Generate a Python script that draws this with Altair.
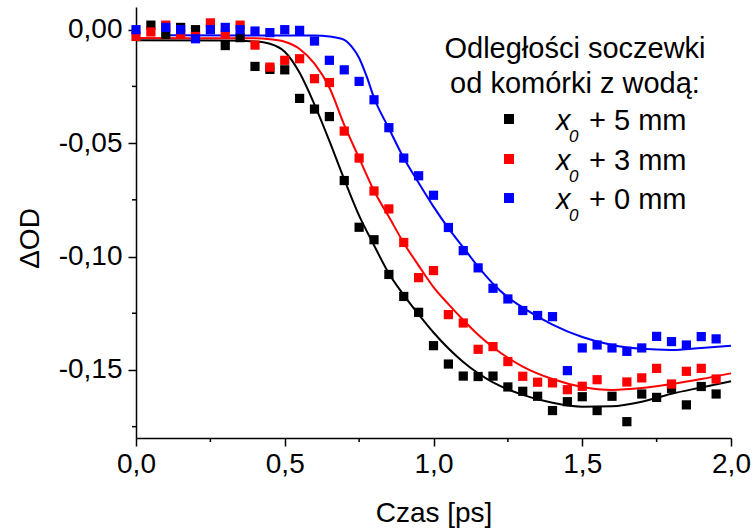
import altair as alt
import pandas as pd

# ---------------- data ----------------
series_keys = ["x5", "x3", "x0"]
series_colors = ["#000000", "#ff0000", "#0000ff"]
legend_labels = ["+ 5 mm", "+ 3 mm", "+ 0 mm"]

time_ps = [0.00, 0.05, 0.10, 0.15, 0.20, 0.25, 0.30, 0.35, 0.40, 0.45,
           0.50, 0.55, 0.60, 0.65, 0.70, 0.75, 0.80, 0.85, 0.90, 0.95,
           1.00, 1.05, 1.10, 1.15, 1.20, 1.25, 1.30, 1.35, 1.40, 1.45,
           1.50, 1.55, 1.60, 1.65, 1.70, 1.75, 1.80, 1.85, 1.90, 1.95]

od_x5 = [None, 0.002, -0.002, 0.001, 0.000, None, -0.007, -0.0035, -0.0162, -0.0175,
         -0.0177, -0.0303, -0.0350, -0.0383, -0.0665, -0.0871, -0.0926, -0.1079, -0.1176, -0.1246,
         -0.1393, -0.1474, -0.1527, -0.1529, -0.1527, -0.1575, -0.1594, -0.1616, -0.1679, -0.1640,
         -0.1618, -0.1679, -0.1616, -0.1728, -0.1606, -0.1621, -0.1581, -0.1654, -0.1573, -0.1606]

od_x3 = [-0.003, -0.001, 0.002, -0.002, -0.003, 0.003, -0.002, 0.002, -0.0068, -0.0165,
         -0.0135, -0.0128, -0.0216, -0.0233, -0.0447, -0.0566, -0.0711, -0.0790, -0.0938, -0.1093,
         -0.1062, -0.1256, -0.1293, -0.1409, -0.1397, -0.1463, -0.1528, -0.1554, -0.1557, -0.1587,
         -0.1572, -0.1543, None, -0.1553, -0.1535, -0.1493, -0.1562, -0.1506, -0.1493, -0.1540]

od_x0 = [0.000, None, 0.001, 0.000, -0.004, 0.000, 0.001, 0.000, -0.0006, -0.0013,
         0.000, -0.0003, -0.0050, -0.0135, -0.0177, -0.0228, -0.0309, -0.0432, -0.0566, -0.0644,
         -0.0730, -0.0872, -0.0974, -0.1050, -0.1140, -0.1187, -0.1238, -0.1260, -0.1265, -0.1503,
         -0.1403, -0.1390, -0.1403, -0.1418, -0.1403, -0.1352, -0.1375, -0.1390, -0.1353, -0.1363]

fit_x5_t = [0.00, 0.30, 0.40, 0.45, 0.50, 0.55, 0.60, 0.65, 0.70, 0.75, 0.80, 0.85, 0.90,
            0.95, 1.00, 1.10, 1.20, 1.30, 1.40, 1.50, 1.60, 1.70, 1.80, 1.90, 2.00]
fit_x5_od = [-0.0047, -0.0048, -0.0052, -0.0062, -0.0097, -0.0190, -0.0330, -0.0490, -0.0660,
             -0.0820, -0.0950, -0.1075, -0.1170, -0.1255, -0.1335, -0.1465, -0.1555, -0.1610,
             -0.1645, -0.1662, -0.1660, -0.1640, -0.1605, -0.1577, -0.1550]

fit_x3_t = [0.00, 0.40, 0.45, 0.50, 0.55, 0.60, 0.65, 0.70, 0.75, 0.80, 0.85, 0.90, 0.95,
            1.00, 1.05, 1.10, 1.15, 1.20, 1.30, 1.40, 1.50, 1.60, 1.70, 1.80, 1.90, 2.00]
fit_x3_od = [-0.0037, -0.0038, -0.0042, -0.0053, -0.0085, -0.0150, -0.0255, -0.0420, -0.0566,
             -0.0710, -0.0825, -0.0940, -0.1040, -0.1135, -0.1210, -0.1280, -0.1345, -0.1400,
             -0.1485, -0.1540, -0.1575, -0.1588, -0.1580, -0.1562, -0.1540, -0.1515]

fit_x0_t = [0.10, 0.60, 0.65, 0.70, 0.725, 0.75, 0.775, 0.80, 0.85, 0.90, 0.95, 1.00, 1.05,
            1.10, 1.15, 1.20, 1.25, 1.30, 1.40, 1.50, 1.60, 1.70, 1.80, 1.90, 2.00]
fit_x0_od = [-0.0025, -0.0026, -0.0030, -0.0045, -0.0075, -0.0125, -0.0205, -0.0300, -0.0435,
             -0.0566, -0.0675, -0.0780, -0.0875, -0.0960, -0.1045, -0.1120, -0.1180, -0.1225,
             -0.1300, -0.1355, -0.1390, -0.1407, -0.1412, -0.1403, -0.1393]

x_major = [0.0, 0.5, 1.0, 1.5, 2.0]
x_minor = [0.25, 0.75, 1.25, 1.75]
y_major = [0.0, -0.05, -0.10, -0.15]
y_minor = [-0.025, -0.075, -0.125, -0.175]

legend_title_1 = "Odległości soczewki"
legend_title_2 = "od komórki z wodą:"

# ---------------- tables ----------------
rows = []
for key, vals in zip(series_keys, [od_x5, od_x3, od_x0]):
    for t, v in zip(time_ps, vals):
        if v is not None:
            rows.append({"series": key, "t": t, "od": v})
pts = pd.DataFrame(rows)

frows = []
for key, ts, vs in [("x5", fit_x5_t, fit_x5_od), ("x3", fit_x3_t, fit_x3_od), ("x0", fit_x0_t, fit_x0_od)]:
    for t, v in zip(ts, vs):
        frows.append({"series": key, "t": t, "od": v})
fits = pd.DataFrame(frows)

FONT = "Liberation Sans"
W, H = 595, 431

xscale = alt.Scale(domain=[0, 2.0], nice=False, zero=False)
yscale = alt.Scale(domain=[-0.18, 0.01], nice=False, zero=False)
cscale = alt.Scale(domain=series_keys, range=series_colors)

xaxis = alt.Axis(values=x_major, title="Czas [ps]",
                 labelExpr="replace(format(datum.value, '.1f'), '.', ',')",
                 grid=False, tickSize=8, tickWidth=1.5, tickColor="black",
                 domainColor="black", domainWidth=1.5,
                 labelFont=FONT, labelFontSize=28, labelColor="black", labelPadding=4,
                 titleFont=FONT, titleFontSize=28, titleFontWeight="normal",
                 titleColor="black", titlePadding=21, labelFlush=False)
yaxis = alt.Axis(values=y_major, title="ΔOD",
                 labelExpr="replace(replace(format(datum.value, '.2f'), '.', ','), '\u2212', '-')",
                 grid=False, tickSize=8, tickWidth=1.5, tickColor="black",
                 domainColor="black", domainWidth=1.5,
                 labelFont=FONT, labelFontSize=28, labelColor="black", labelPadding=6,
                 titleFont=FONT, titleFontSize=28, titleFontWeight="normal",
                 titleColor="black", titleX=-106, titleY=231, titleAngle=270,
                 titleAlign="center", titleBaseline="middle", labelFlush=False)

lines = alt.Chart(fits).mark_line(interpolate="monotone", strokeWidth=2).encode(
    x=alt.X("t:Q", scale=xscale, axis=xaxis),
    y=alt.Y("od:Q", scale=yscale, axis=yaxis),
    color=alt.Color("series:N", scale=cscale, legend=None),
    detail="series:N",
)

points = alt.Chart(pts).mark_square(size=85, opacity=1).encode(
    x=alt.X("t:Q", scale=xscale),
    y=alt.Y("od:Q", scale=yscale),
    color=alt.Color("series:N", scale=cscale, legend=None),
)

yminor = alt.Chart(pd.DataFrame({"v": y_minor})).mark_rule(color="black", strokeWidth=1.5).encode(
    y=alt.Y("v:Q", scale=yscale), x=alt.value(-4), x2=alt.value(0))
xminor = alt.Chart(pd.DataFrame({"v": x_minor})).mark_rule(color="black", strokeWidth=1.5).encode(
    x=alt.X("v:Q", scale=xscale), y=alt.value(H), y2=alt.value(H + 4))

layers = [lines, points, yminor, xminor]

# legend (drawn by hand to allow italic x with subscript 0)
one = pd.DataFrame({"k": [0]})
layers.append(alt.Chart(one).mark_text(font=FONT, fontSize=29, align="center", baseline="alphabetic",
                                        color="black").encode(
    x=alt.value(439), y=alt.value(51), text=alt.value(legend_title_1)))
layers.append(alt.Chart(one).mark_text(font=FONT, fontSize=29, align="center", baseline="alphabetic",
                                        color="black").encode(
    x=alt.value(439), y=alt.value(86), text=alt.value(legend_title_2)))

row_y = [112, 152, 191]
for key, col, lab, ry in zip(series_keys, series_colors, legend_labels, row_y):
    layers.append(alt.Chart(one).mark_square(size=100, color=col, opacity=1).encode(
        x=alt.value(373), y=alt.value(ry)))
    layers.append(alt.Chart(one).mark_text(font=FONT, fontSize=29, fontStyle="italic", align="left",
                                            baseline="alphabetic", color="black").encode(
        x=alt.value(420), y=alt.value(ry + 11), text=alt.value("x")))
    layers.append(alt.Chart(one).mark_text(font=FONT, fontSize=17, fontStyle="italic", align="left",
                                            baseline="alphabetic", color="black").encode(
        x=alt.value(433), y=alt.value(ry + 23), text=alt.value("0")))
    layers.append(alt.Chart(one).mark_text(font=FONT, fontSize=29, align="left",
                                            baseline="alphabetic", color="black").encode(
        x=alt.value(453), y=alt.value(ry + 11), text=alt.value(lab)))

chart = alt.layer(*layers).properties(
    width=W, height=H,
    autosize=alt.AutoSizeParams(type="none"),
    padding={"left": 136, "top": 7, "right": 24, "bottom": 93},
    background="white",
).configure_view(strokeWidth=0)

chart.save("out.html", embed_options={"renderer": "svg", "actions": False})
